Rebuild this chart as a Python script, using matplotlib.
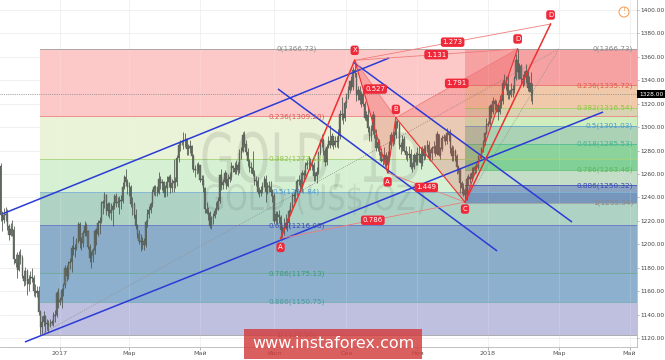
import numpy as np
import matplotlib
matplotlib.use('Agg')
import matplotlib.pyplot as plt
from matplotlib.patches import Polygon, Rectangle, Circle, PathPatch
from matplotlib.textpath import TextPath
from matplotlib.font_manager import FontProperties
from matplotlib.transforms import Affine2D, IdentityTransform, blended_transform_factory

# ---------------- data (daily bars, weekday index: 0 = 2 Jan 2017) ----------------
first_bar = -36          # 11 Nov 2016
first_open = 1267
close_nov16 = [1225,1221,1225,1226,1216,1208,1213,1212,1187,1184,1178,1191,1188,1173]
high_nov16  = [1269,1228,1231,1232,1230,1217,1218,1221,1216,1192,1193,1194,1196,1191]
low_nov16   = [1220,1211,1218,1220,1212,1204,1207,1207,1183,1181,1171,1177,1183,1171]
close_dec16 = [1169,1177,1166,1170,1172,1171,1160,1158,1160,1142,1129,1134,1139,1132,1132,1130,1133,1133,1139,1140,1158,1151]
high_dec16  = [1178,1181,1179,1174,1177,1180,1174,1166,1164,1164,1144,1139,1143,1140,1136,1135,1136,1135,1142,1144,1160,1163]
low_dec16   = [1164,1165,1157,1160,1166,1168,1156,1155,1155,1140,1123,1124,1130,1125,1127,1125,1129,1131,1130,1134,1138,1146]
close_jan17 = [1152,1161,1165,1180,1173,1184,1185,1197,1196,1197,1203,1217,1203,1201,1210,1216,1211,1198,1188,1191,1195,1211]
high_jan17  = [1155,1163,1167,1182,1182,1186,1188,1199,1207,1200,1205,1219,1219,1206,1212,1220,1218,1212,1200,1194,1197,1213]
low_jan17   = [1148,1146,1156,1163,1169,1170,1179,1176,1191,1189,1195,1201,1197,1195,1198,1207,1207,1196,1185,1180,1185,1192]
close_feb17 = [1209,1218,1220,1235,1236,1242,1228,1234,1227,1229,1233,1241,1235,1236,1237,1237,1249,1257,1253,1249]
high_feb17  = [1214,1221,1223,1237,1238,1245,1243,1236,1236,1235,1236,1243,1244,1240,1241,1242,1253,1259,1264,1256]
low_feb17   = [1199,1207,1209,1218,1226,1231,1225,1224,1222,1221,1216,1230,1232,1232,1226,1230,1235,1247,1250,1243]
close_mar17 = [1249,1234,1234,1225,1216,1209,1203,1202,1203,1199,1219,1226,1229,1234,1245,1249,1247,1244,1256,1252,1253,1244,1248]
high_mar17  = [1253,1251,1240,1236,1230,1217,1212,1209,1206,1205,1221,1230,1233,1236,1247,1251,1251,1250,1262,1258,1256,1254,1251]
low_mar17   = [1241,1232,1225,1222,1213,1205,1200,1194,1196,1195,1198,1215,1222,1227,1232,1242,1241,1241,1243,1247,1246,1240,1240]
close_apr17 = [1253,1257,1248,1252,1254,1253,1274,1285,1287,1287,1289,1290,1281,1282,1284,1275,1264,1263,1263,1268]
high_apr17  = [1258,1259,1260,1256,1273,1257,1276,1287,1289,1289,1296,1295,1291,1286,1289,1285,1277,1268,1269,1270]
low_apr17   = [1241,1249,1244,1245,1245,1248,1250,1270,1280,1285,1281,1283,1276,1276,1278,1264,1262,1257,1260,1261]
close_may17 = [1255,1255,1248,1230,1227,1227,1216,1222,1224,1228,1230,1237,1259,1251,1253,1261,1250,1256,1257,1267,1265,1262,1268]
high_may17  = [1268,1259,1259,1249,1236,1232,1228,1224,1227,1231,1236,1240,1260,1264,1256,1263,1262,1260,1262,1270,1268,1270,1272]
low_may17   = [1253,1251,1245,1227,1226,1221,1214,1213,1217,1222,1226,1229,1235,1246,1247,1252,1247,1249,1253,1255,1262,1260,1260]
close_jun17 = [1263,1278,1280,1293,1286,1279,1271,1265,1265,1260,1254,1254,1245,1244,1246,1250,1256,1245,1249,1249,1245,1241]
high_jun17  = [1270,1281,1283,1296,1297,1289,1282,1273,1270,1280,1263,1258,1257,1249,1250,1253,1258,1259,1253,1254,1254,1247]
low_jun17   = [1259,1261,1273,1279,1283,1276,1267,1262,1261,1258,1251,1250,1243,1240,1241,1244,1249,1236,1243,1245,1241,1236]
close_jul17 = [1220,1226,1225,1223,1212,1213,1214,1218,1218,1228,1233,1242,1241,1245,1254,1254,1249,1261,1259,1268,1269]
high_jul17  = [1244,1228,1228,1229,1225,1216,1222,1226,1222,1230,1236,1244,1245,1247,1256,1259,1256,1263,1263,1270,1272]
low_jul17   = [1217,1218,1217,1218,1205,1204,1208,1213,1211,1214,1226,1231,1236,1235,1242,1251,1245,1245,1255,1258,1264]
close_aug17 = [1269,1267,1268,1258,1258,1262,1278,1287,1289,1280,1270,1283,1288,1285,1292,1285,1288,1287,1292,1311,1310,1308,1321]
high_aug17  = [1275,1274,1272,1270,1262,1266,1280,1290,1294,1291,1282,1286,1292,1302,1295,1292,1292,1292,1298,1315,1326,1312,1322]
low_aug17   = [1264,1263,1263,1254,1254,1252,1260,1276,1283,1276,1267,1268,1282,1282,1284,1281,1283,1283,1282,1290,1306,1303,1305]
close_sep17 = [1326,1332,1339,1334,1349,1346,1327,1332,1323,1328,1320,1308,1310,1299,1292,1297,1310,1293,1282,1287,1279]
high_sep17  = [1329,1335,1340,1344,1351,1357,1337,1335,1335,1331,1333,1322,1314,1317,1301,1302,1314,1311,1298,1291,1290]
low_sep17   = [1316,1324,1329,1332,1332,1343,1322,1323,1320,1317,1318,1306,1305,1296,1288,1288,1294,1291,1280,1280,1276]
close_oct17 = [1271,1273,1276,1268,1275,1285,1293,1288,1293,1304,1302,1285,1283,1290,1280,1276,1276,1277,1266,1266,1276,1270]
high_oct17  = [1282,1277,1283,1279,1280,1288,1296,1296,1297,1306,1306,1304,1287,1293,1292,1284,1280,1284,1281,1270,1278,1279]
low_oct17   = [1270,1268,1271,1266,1261,1272,1283,1284,1286,1291,1299,1281,1277,1280,1279,1273,1271,1274,1264,1262,1264,1268]
close_nov17 = [1276,1277,1269,1281,1275,1282,1285,1274,1278,1282,1283,1277,1294,1276,1281,1291,1291,1288,1295,1293,1282,1275]
high_nov17  = [1283,1284,1283,1284,1285,1285,1289,1288,1281,1284,1288,1285,1297,1294,1283,1293,1294,1293,1299,1297,1298,1285]
low_nov17   = [1268,1270,1264,1267,1272,1273,1279,1272,1271,1272,1278,1275,1276,1275,1273,1280,1288,1285,1286,1288,1278,1271]
close_dec17 = [1280,1275,1266,1264,1252,1248,1246,1242,1256,1257,1256,1261,1263,1266,1265,1275,1275,1281,1287,1295,1302]
high_dec17  = [1284,1281,1277,1268,1265,1254,1252,1248,1258,1260,1261,1266,1266,1268,1269,1276,1277,1283,1289,1296,1308]
low_dec17   = [1271,1271,1260,1261,1244,1243,1241,1236,1238,1251,1252,1254,1257,1260,1261,1264,1274,1273,1279,1285,1294]
close_jan18 = [1303,1318,1313,1322,1320,1319,1313,1319,1322,1338,1340,1337,1327,1327,1332,1332,1342,1357,1347,1352,1341,1340,1344]
high_jan18  = [1305,1320,1320,1326,1324,1323,1321,1327,1326,1340,1345,1344,1345,1332,1338,1336,1344,1362,1366.7,1355,1354,1345,1348]
low_jan18   = [1301,1302,1308,1311,1315,1313,1306,1311,1316,1320,1335,1332,1324,1324,1326,1326,1329,1340,1341,1341,1337,1334,1336]
close_feb18 = [1348,1333,1338,1330,1328]
high_feb18  = [1354,1350,1344,1347,1338]
low_feb18   = [1338,1331,1330,1322,1320]

months_c = [close_nov16, close_dec16, close_jan17, close_feb17, close_mar17, close_apr17, close_may17, close_jun17,
            close_jul17, close_aug17, close_sep17, close_oct17, close_nov17, close_dec17, close_jan18, close_feb18]
months_h = [high_nov16, high_dec16, high_jan17, high_feb17, high_mar17, high_apr17, high_may17, high_jun17,
            high_jul17, high_aug17, high_sep17, high_oct17, high_nov17, high_dec17, high_jan18, high_feb18]
months_l = [low_nov16, low_dec16, low_jan17, low_feb17, low_mar17, low_apr17, low_may17, low_jun17,
            low_jul17, low_aug17, low_sep17, low_oct17, low_nov17, low_dec17, low_jan18, low_feb18]

last_price = 1328.00

# axis ticks
x_tick_pos = [0, 42, 85, 130, 174, 217, 260, 303, 346]
x_tick_lab = ['2017', 'Мар', 'Май', 'Июл', 'Сен', 'Ноя', '2018', 'Мар', 'Май']
y_ticks = list(range(1120, 1401, 20))

# Fibonacci retracements
fib_ratios = [0, 0.236, 0.382, 0.5, 0.618, 0.786, 0.886, 1]
big_fib_prices = [1366.73, 1309.20, 1273.12, 1244.84, 1216.08, 1175.13, 1150.75, 1122.96]
big_fib_start = -12
big_fib_end_trend = 303
small_fib_prices = [1366.73, 1335.72, 1316.54, 1301.03, 1285.53, 1263.46, 1250.32, 1235.34]
small_fib_start = 246
small_fib_end_trend = 303

# harmonic pattern anchor points (bar, price)
pt_A1 = (134, 1205)
pt_X = (179, 1357)
pt_A2 = (199, 1261)
pt_B = (204, 1308)
pt_C = (246, 1236)
pt_D = (278, 1366.73)
pt_D2 = (298, 1388)
ratio_labels = [('0.527', pt_X, pt_B), ('1.449', pt_A2, pt_C), ('1.791', pt_B, pt_D),
                ('1.131', pt_X, pt_D), ('1.273', pt_X, pt_D2), ('0.786', pt_A1, pt_C)]

# blue trend lines (bar, price) endpoints
blue_lines = [((-35.2, 1225.8), (199.9, 1359.0)),
              ((-21.3, 1116.6), (329.9, 1312.9)),
              ((132.4, 1332.6), (265.5, 1194.3)),
              ((178.0, 1355.6), (311.0, 1219.0))]

# ---------------- figure ----------------
W, H = 665, 360
fig = plt.figure(figsize=(W / 100, H / 100), dpi=100)
fig.patch.set_facecolor('white')
ax = fig.add_axes([0, 13 / H, 637 / W, 347 / H])
XMIN, XMAX = -36.45, 350.5
YMIN, YMAX = 1112.3, 1408.5
ax.set_xlim(XMIN, XMAX)
ax.set_ylim(YMIN, YMAX)
ax.set_facecolor('white')

# grid
for yv in y_ticks:
    ax.axhline(yv, color='#e9e9e9', lw=0.5, zorder=0.5)
for xv in x_tick_pos:
    ax.axvline(xv, color='#e9e9e9', lw=0.5, zorder=0.5)

# big fib bands
big_band_colors = ['#fcc9c8', '#eaf2d7', '#d6f0d3', '#aed3c5', '#8badc9', '#8eb0cf', '#bfbfe0']
big_line_colors = ['#a0a0a0', '#f08080', '#a8d47a', '#80b4d8', '#6a78c4', '#6aac94', '#76aeb2', '#a0a0a0']
big_label_colors = ['#8a8a8a', '#e05555', '#8cc34a', '#4d9bd0', '#3f4fb0', '#3a9a78', '#4a9a9a', '#8a8a8a']
for i in range(7):
    ax.add_patch(Rectangle((big_fib_start, big_fib_prices[i + 1]), XMAX - big_fib_start,
                           big_fib_prices[i] - big_fib_prices[i + 1], fc=big_band_colors[i], ec='none', zorder=1))

# small fib bands (alpha overlays)
small_band = [('#eb585b', 0.35), ('#dac772', 0.35), ('#9ae790', 0.35), ('#4fa284', 0.4),
              ('#00a241', 0.4), ('#9ab4ae', 0.3), ('#425ab3', 0.5)]
small_line_colors = ['#a0a0a0', '#e87070', '#a6d468', '#64a4d4', '#54bc94', '#66c276', '#4454bc', '#a0a0a0']
small_label_colors = ['#8a8a8a', '#e05a4a', '#8cc63f', '#4a9ad0', '#3fb58f', '#5cb85c', '#3a48b0', '#8a8a8a']
for i in range(7):
    c, a = small_band[i]
    ax.add_patch(Rectangle((small_fib_start, small_fib_prices[i + 1]), XMAX - small_fib_start,
                           small_fib_prices[i] - small_fib_prices[i + 1], fc=c, alpha=a, ec='none', zorder=1.2))

# grid faintly over bands
for xv in x_tick_pos:
    ax.axvline(xv, color='white', lw=0.4, alpha=0.25, zorder=1.3)

# fib level lines
for i, p in enumerate(big_fib_prices):
    ax.plot([big_fib_start, XMAX], [p, p], color=big_line_colors[i], lw=0.6, zorder=1.5)
for i, p in enumerate(small_fib_prices):
    ax.plot([small_fib_start, XMAX], [p, p], color=small_line_colors[i], lw=0.6, zorder=1.6)

# fib trend lines (dotted)
ax.plot([big_fib_start, big_fib_end_trend], [big_fib_prices[-1], big_fib_prices[0]],
        ls=(0, (1, 1.5)), color='#8f8f8f', lw=0.6, zorder=1.7)
ax.plot([small_fib_start, small_fib_end_trend], [small_fib_prices[-1], small_fib_prices[0]],
        ls=(0, (1, 1.5)), color='#8f8f8f', lw=0.6, zorder=1.7)

# watermark (stretched text in display pixels)
def stretched_text(s, x_px, base_from_top, sx, sy, alpha):
    tp = TextPath((0, 0), s, size=1, prop=FontProperties(family='DejaVu Sans'))
    tr = Affine2D().scale(sx, sy).translate(x_px, H - base_from_top)
    patch = PathPatch(tp, transform=tr, fc='#3a3a3a', ec='none', alpha=alpha, zorder=2)
    ax.add_artist(patch)

stretched_text('GOLD, 1D', 200, 182, 45, 68, 0.12)
stretched_text('GOLD (US$/OZ)', 203, 210, 28.7, 35, 0.11)

# candles
closes = np.concatenate([np.array(m, float) for m in months_c])
highs = np.concatenate([np.array(m, float) for m in months_h])
lows = np.concatenate([np.array(m, float) for m in months_l])
bars = np.arange(first_bar, first_bar + len(closes))
opens = np.r_[first_open, closes[:-1]]
hi = np.maximum(highs, np.maximum(opens, closes))
lo = np.minimum(lows, np.minimum(opens, closes))
ax.vlines(bars, lo, hi, color='#4a524a', lw=0.55, zorder=4)
body_lo = np.minimum(opens, closes)
body_h = np.maximum(np.abs(closes - opens), 0.6)
ax.bar(bars, body_h, bottom=body_lo, width=0.7, color='#6a726a', edgecolor='#4a524a', lw=0.25, zorder=4.1)

# current price line
ax.axhline(last_price, color='#8a8a8a', lw=0.6, ls=(0, (1, 1.2)), zorder=3)

# pattern fills
red = '#ee3030'
ax.add_patch(Polygon([pt_X, pt_A2, pt_B], closed=True, fc='#e83030', alpha=0.25, ec='none', zorder=5))
ax.add_patch(Polygon([pt_B, pt_C, pt_D], closed=True, fc='#e83030', alpha=0.2, ec='none', zorder=5))

# blue lines
for (p1, p2) in blue_lines:
    ax.plot([p1[0], p2[0]], [p1[1], p2[1]], color='#2b3bd6', lw=1.1, zorder=6, solid_capstyle='butt')

# ratio lines
for lab, p1, p2 in ratio_labels:
    ax.plot([p1[0], p2[0]], [p1[1], p2[1]], color='#f07c7c', lw=0.6, zorder=6.5)

# pattern lines
for p1, p2 in [(pt_X, pt_A2), (pt_A2, pt_B), (pt_B, pt_C), (pt_C, pt_D)]:
    ax.plot([p1[0], p2[0]], [p1[1], p2[1]], color=red, lw=0.8, zorder=7)
for p1, p2 in [(pt_A1, pt_X), (pt_C, pt_D2)]:
    ax.plot([p1[0], p2[0]], [p1[1], p2[1]], color=red, lw=1.1, zorder=7)

box = dict(boxstyle='round,pad=0.25,rounding_size=0.35', fc='#ee2a3a', ec='none')
for lab, p1, p2 in ratio_labels:
    ax.text((p1[0] + p2[0]) / 2, (p1[1] + p2[1]) / 2, lab, fontsize=5, color='white',
            ha='center', va='center', bbox=box, zorder=9)

for name, pt, dy in [('A', pt_A1, -6.5), ('X', pt_X, 7.2), ('A', pt_A2, -6.5), ('B', pt_B, 6.0),
                     ('C', pt_C, -5.0), ('D', pt_D, 7.2), ('D', pt_D2, 6.5)]:
    ax.annotate(name, xy=pt, xytext=(0, dy), textcoords='offset points', fontsize=5, color='white',
                ha='center', va='center', bbox=box, zorder=9)

# fib labels
for i, r in enumerate(fib_ratios):
    ax.text(143.5, big_fib_prices[i], f'{r:g}({big_fib_prices[i]:.2f})', fontsize=5.2,
            color=big_label_colors[i], ha='center', va='center', zorder=8)
    ax.text(348.1, small_fib_prices[i], f'{r:g}({small_fib_prices[i]:.2f})', fontsize=5.2,
            color=small_label_colors[i], ha='right', va='center', zorder=8)

# axes styling
for s in ['top', 'left']:
    ax.spines[s].set_visible(False)
for s in ['right', 'bottom']:
    ax.spines[s].set_color('#b8b8b8')
    ax.spines[s].set_linewidth(0.6)
ax.yaxis.tick_right()
ax.set_yticks(y_ticks)
ax.set_yticklabels([f'{v:.2f}' for v in y_ticks], fontsize=4.2, color='#444444')
ax.tick_params(axis='y', length=1.5, width=0.5, color='#9a9a9a', pad=0.8)
ax.set_xticks(x_tick_pos)
ax.set_xticklabels(x_tick_lab, fontsize=4.6, color='#555555')
ax.tick_params(axis='x', length=2, width=0.5, color='#9a9a9a', pad=1.2)

# last price label
ax.text(1.003, last_price, f'{last_price:.2f}', transform=blended_transform_factory(ax.transAxes, ax.transData),
        ha='left', va='center', fontsize=4.2, color='white', clip_on=False, zorder=10,
        bbox=dict(boxstyle='square,pad=0.25', fc='black', ec='none'))

# orange info circle
fig.add_artist(Circle((624, H - 12), 5, transform=IdentityTransform(), fill=False, ec='#f4a460', lw=0.8))
fig.text(624 / W, (H - 12) / H, '!', fontsize=5.5, color='#f4a460', ha='center', va='center')

# banner
fig.add_artist(Rectangle((244 / W, 1 / H), 178 / W, 30 / H, transform=fig.transFigure,
                         fc='#d23c3c', alpha=0.82, ec='none', zorder=20))
fig.text(333 / W, 16 / H, 'www.instaforex.com', fontsize=11.5, color='white', ha='center', va='center', zorder=21)

fig.savefig('out.png', dpi=100)
